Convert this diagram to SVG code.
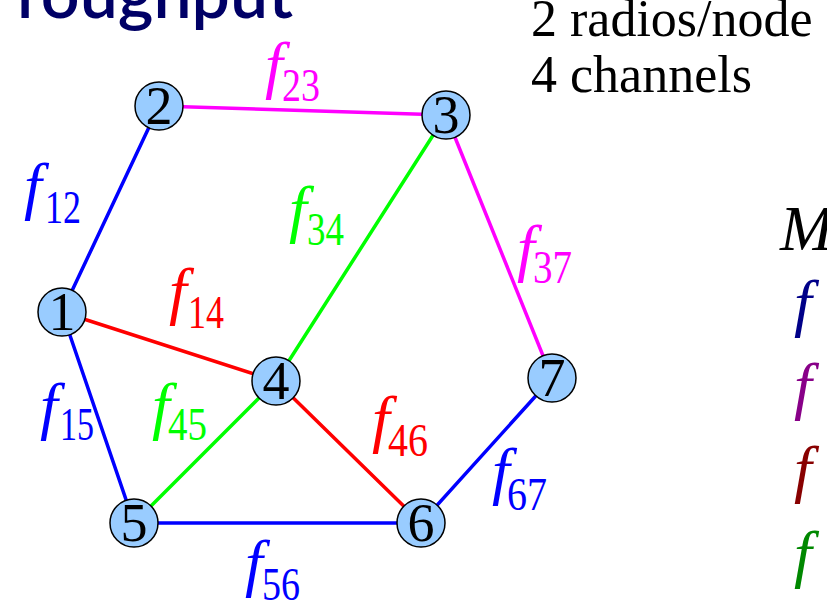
<svg xmlns="http://www.w3.org/2000/svg" width="827" height="600" viewBox="0 0 827 600">
<style>
.e{stroke-width:3.5;fill:none;stroke-linecap:round}
.nd circle{fill:#99ccff;stroke:#000;stroke-width:1.5}
.nd text{font-family:"Liberation Serif",serif;font-size:54px;text-anchor:middle;fill:#000}
.t{font-family:"Liberation Serif",serif;font-size:52px;fill:#000}
</style>
<rect width="827" height="600" fill="#fff"/>
<text x="293" y="18" text-anchor="end" font-family="Lato, 'Open Sans', sans-serif" font-size="68" font-weight="600" fill="#000066">roughput</text>
<text class="t" x="531" y="36">2 radios/node</text>
<text class="t" x="531" y="92">4 channels</text>
<g id="connectors">
<line class="e" x1="62" y1="312" x2="159" y2="106" stroke="#0000ff"/>
<line class="e" x1="159" y1="106" x2="446" y2="115" stroke="#ff00ff"/>
<line class="e" x1="446" y1="115" x2="552" y2="378" stroke="#ff00ff"/>
<line class="e" x1="62" y1="312" x2="276" y2="381" stroke="#ff0000"/>
<line class="e" x1="276" y1="381" x2="421" y2="523" stroke="#ff0000"/>
<line class="e" x1="446" y1="115" x2="276" y2="381" stroke="#00ff00"/>
<line class="e" x1="276" y1="381" x2="134" y2="523" stroke="#00ff00"/>
<line class="e" x1="62" y1="312" x2="134" y2="523" stroke="#0000ff"/>
<line class="e" x1="134" y1="523" x2="421" y2="523" stroke="#0000ff"/>
<line class="e" x1="421" y1="523" x2="552" y2="378" stroke="#0000ff"/>
</g>
<g id="edge-labels" style="font-family:'Liberation Serif',serif">
<g fill="#0000ff"><text style="font-style:italic;font-size:64px" x="24" y="207">f</text><text style="font-size:47px" x="45" y="223" textLength="36" lengthAdjust="spacingAndGlyphs">12</text></g>
<g fill="#ff00ff"><text style="font-style:italic;font-size:64px" x="265" y="86">f</text><text style="font-size:47px" x="282" y="101" textLength="38" lengthAdjust="spacingAndGlyphs">23</text></g>
<g fill="#00ff00"><text style="font-style:italic;font-size:64px" x="289" y="230">f</text><text style="font-size:47px" x="307" y="245" textLength="37" lengthAdjust="spacingAndGlyphs">34</text></g>
<g fill="#ff00ff"><text style="font-style:italic;font-size:64px" x="517" y="269">f</text><text style="font-size:47px" x="533" y="283" textLength="39" lengthAdjust="spacingAndGlyphs">37</text></g>
<g fill="#ff0000"><text style="font-style:italic;font-size:64px" x="169" y="312">f</text><text style="font-size:47px" x="188" y="328" textLength="36" lengthAdjust="spacingAndGlyphs">14</text></g>
<g fill="#0000ff"><text style="font-style:italic;font-size:64px" x="40" y="427">f</text><text style="font-size:47px" x="60" y="440" textLength="34" lengthAdjust="spacingAndGlyphs">15</text></g>
<g fill="#00ff00"><text style="font-style:italic;font-size:64px" x="152" y="427">f</text><text style="font-size:47px" x="168" y="440" textLength="39" lengthAdjust="spacingAndGlyphs">45</text></g>
<g fill="#ff0000"><text style="font-style:italic;font-size:64px" x="372" y="440">f</text><text style="font-size:47px" x="388" y="456" textLength="40" lengthAdjust="spacingAndGlyphs">46</text></g>
<g fill="#0000ff"><text style="font-style:italic;font-size:64px" x="492" y="492">f</text><text style="font-size:47px" x="507" y="510" textLength="40" lengthAdjust="spacingAndGlyphs">67</text></g>
<g fill="#0000ff"><text style="font-style:italic;font-size:64px" x="245" y="584">f</text><text style="font-size:47px" x="262" y="600" textLength="38" lengthAdjust="spacingAndGlyphs">56</text></g>
</g>
<g id="node1" class="nd"><circle cx="62" cy="312" r="24"/><text x="62" y="330">1</text></g>
<g id="node2" class="nd"><circle cx="159" cy="106" r="24"/><text x="159" y="124">2</text></g>
<g id="node3" class="nd"><circle cx="446" cy="115" r="24"/><text x="446" y="133">3</text></g>
<g id="node4" class="nd"><circle cx="276" cy="381" r="24"/><text x="276" y="399">4</text></g>
<g id="node5" class="nd"><circle cx="134" cy="523" r="24"/><text x="134" y="541">5</text></g>
<g id="node6" class="nd"><circle cx="421" cy="523" r="24"/><text x="421" y="541">6</text></g>
<g id="node7" class="nd"><circle cx="552" cy="378" r="24"/><text x="552" y="396">7</text></g>
<g id="legend" style="font-family:'Liberation Serif',serif;font-style:italic;font-size:64px">
<text x="780" y="250" fill="#000">M</text>
<text x="794" y="324" fill="#000088">f</text>
<text x="794" y="407" fill="#880088">f</text>
<text x="794" y="490" fill="#880000">f</text>
<text x="794" y="575" fill="#008800">f</text>
</g>
</svg>
